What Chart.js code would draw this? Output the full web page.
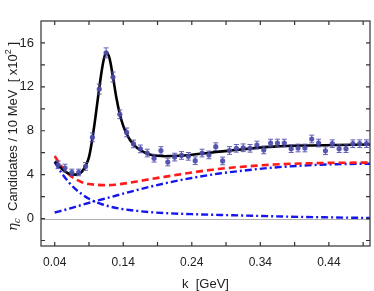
<!DOCTYPE html>
<html lang="en">
<head>
<meta charset="UTF-8">
<title>eta_c candidates vs k</title>
<script src="https://cdn.jsdelivr.net/npm/chart.js@4.4.0/dist/chart.umd.min.js"></script>
<style>
  * { margin: 0; padding: 0; }
  body { background: #fff; width: 374px; height: 291px; overflow: hidden; }
  canvas { display: block; }
</style>
</head>
<body>
<canvas id="chart" width="374" height="291"></canvas>
<script>
// data points (bin centres, x10^2 candidates per 10 MeV)
const kPoints = [0.045,0.055,0.065,0.075,0.085,0.095,0.105,0.115,0.125,0.135,0.145,0.155,0.165,0.175,0.185,0.195,0.205,0.215,0.225,0.235,0.245,0.255,0.265,0.275,0.285,0.295,0.305,0.315,0.325,0.335,0.345,0.355,0.365,0.375,0.385,0.395,0.405,0.415,0.425,0.435,0.445,0.455,0.465,0.475,0.485,0.495];
const counts  = [4.9,4.6,4.2,4.2,4.75,7.4,11.8,15.1,12.9,9.5,7.85,6.8,6.35,5.97,5.5,6.2,5.15,5.6,5.75,5.67,5.27,5.97,5.8,6.55,5.25,6.2,6.4,6.45,6.4,6.7,6.25,6.88,6.88,6.88,6.37,6.43,6.43,7.25,6.88,6.18,6.82,6.37,6.37,6.82,6.82,6.82];
const errs    = [0.35,0.35,0.3,0.3,0.35,0.4,0.45,0.45,0.45,0.4,0.4,0.35,0.35,0.35,0.35,0.35,0.35,0.35,0.35,0.35,0.35,0.35,0.35,0.35,0.35,0.35,0.35,0.35,0.35,0.35,0.35,0.35,0.35,0.35,0.35,0.35,0.35,0.35,0.35,0.35,0.35,0.35,0.35,0.35,0.35,0.35];

// total fit
const fitK = [0.04,0.045,0.05,0.055,0.06,0.065,0.07,0.075,0.08,0.085,0.09,0.095,0.1,0.105,0.11,0.115,0.12,0.125,0.13,0.135,0.14,0.145,0.15,0.155,0.16,0.17,0.18,0.19,0.2,0.22,0.24,0.26,0.28,0.3,0.32,0.36,0.4,0.45,0.5];
const fitY = [5.2,4.9,4.55,4.3,4.12,4.02,4.0,4.05,4.3,4.8,5.6,7.3,9.5,11.9,14.0,15.15,14.6,12.9,11.0,9.5,8.45,7.7,7.15,6.75,6.45,6.05,5.82,5.72,5.68,5.72,5.82,5.95,6.1,6.22,6.35,6.55,6.65,6.7,6.75];

// total background (red)
const bkgK = [0.04,0.05,0.06,0.07,0.08,0.09,0.1,0.11,0.12,0.13,0.14,0.16,0.18,0.2,0.22,0.24,0.27,0.3,0.33,0.36,0.4,0.45,0.5];
const bkgY = [5.7,4.75,4.05,3.6,3.3,3.15,3.08,3.05,3.05,3.1,3.18,3.38,3.6,3.8,4.0,4.2,4.45,4.65,4.8,4.92,5.02,5.08,5.1];

// background components (blue)
const riseK = [0.04,0.06,0.08,0.1,0.12,0.14,0.16,0.2,0.24,0.28,0.32,0.36,0.4,0.45,0.5];
const riseY = [0.55,0.88,1.25,1.6,1.93,2.27,2.6,3.2,3.7,4.1,4.4,4.65,4.82,4.95,5.0];
const fallK = [0.04,0.05,0.06,0.07,0.08,0.09,0.1,0.11,0.12,0.14,0.16,0.18,0.2,0.24,0.3,0.35,0.4,0.45,0.5];
const fallY = [5.15,4.15,3.35,2.7,2.2,1.8,1.5,1.28,1.1,0.85,0.7,0.58,0.5,0.4,0.3,0.22,0.15,0.1,0.05];

const xMajor = [0.04,0.14,0.24,0.34,0.44];
const xTicks = [0.04,0.09,0.14,0.19,0.24,0.29,0.34,0.39,0.44,0.49];
const yMajor = [0,4,8,12,16];
const yTicks = [-2,0,2,4,6,8,10,12,14,16];

function pts(xs, ys) { return xs.map((x, i) => ({ x: x, y: ys[i] })); }

const frame = {
  id: 'frame',
  beforeDatasetsDraw(chart) {
    const { ctx, chartArea: a, scales: { x, y } } = chart;
    ctx.save();
    ctx.strokeStyle = '#b0b0b0';
    ctx.lineWidth = 1;
    const y0 = Math.round(y.getPixelForValue(0)) + 0.5;
    ctx.beginPath(); ctx.moveTo(a.left, y0); ctx.lineTo(a.right, y0); ctx.stroke();
    ctx.restore();
  },
  afterDatasetsDraw(chart) {
    const { ctx, chartArea: a, scales: { x, y } } = chart;
    ctx.save();
    // error bars
    ctx.strokeStyle = 'rgba(80,80,175,0.9)';
    ctx.lineWidth = 1;
    kPoints.forEach((k, i) => {
      const px = x.getPixelForValue(k);
      const yt = y.getPixelForValue(counts[i] + errs[i]);
      const yb = y.getPixelForValue(counts[i] - errs[i]);
      ctx.beginPath();
      ctx.moveTo(px, yt); ctx.lineTo(px, yb);
      ctx.moveTo(px - 2.5, yt); ctx.lineTo(px + 2.5, yt);
      ctx.moveTo(px - 2.5, yb); ctx.lineTo(px + 2.5, yb);
      ctx.stroke();
    });
    // box and inward ticks
    ctx.strokeStyle = '#333';
    ctx.lineWidth = 1.2;
    ctx.strokeRect(a.left, a.top, a.right - a.left, a.bottom - a.top);
    ctx.beginPath();
    xTicks.forEach(t => {
      const px = x.getPixelForValue(t);
      ctx.moveTo(px, a.bottom); ctx.lineTo(px, a.bottom - 4);
      ctx.moveTo(px, a.top); ctx.lineTo(px, a.top + 4);
    });
    yTicks.forEach(t => {
      const py = y.getPixelForValue(t);
      ctx.moveTo(a.left, py); ctx.lineTo(a.left + 4, py);
      ctx.moveTo(a.right, py); ctx.lineTo(a.right - 4, py);
    });
    ctx.stroke();
    // axis titles
    ctx.fillStyle = '#222';
    ctx.font = '13px "Liberation Sans", Arial, sans-serif';
    ctx.textAlign = 'center';
    ctx.textBaseline = 'alphabetic';
    ctx.fillText('k  [GeV]', (a.left + a.right) / 2, 288);
    ctx.translate(17, (a.top + a.bottom) / 2 + 3);
    ctx.rotate(-Math.PI / 2);
    const f = '13px "Liberation Sans", Arial, sans-serif';
    const fs = '9px "Liberation Sans", Arial, sans-serif';
    const parts = [
      { t: '\u03B7', font: 'italic 13px "DejaVu Serif", serif', dy: 0 },
      { t: 'c', font: 'italic 9px "DejaVu Serif", serif', dy: 3 },
      { t: '  Candidates / 10 MeV  [ x10', font: f, dy: 0 },
      { t: '2', font: fs, dy: -6 },
      { t: ' ]', font: f, dy: 0 }
    ];
    let total = 0;
    parts.forEach(p => { ctx.font = p.font; p.w = ctx.measureText(p.t).width; total += p.w; });
    let cx = -total / 2;
    ctx.textAlign = 'left';
    parts.forEach(p => { ctx.font = p.font; ctx.fillText(p.t, cx, p.dy); cx += p.w; });
    ctx.restore();
  }
};

new Chart(document.getElementById('chart'), {
  type: 'scatter',
  data: {
    datasets: [
      { data: pts(kPoints, counts), showLine: false, pointRadius: 2.6, pointBorderWidth: 0,
        backgroundColor: 'rgba(72,72,170,0.9)' },
      { data: pts(fitK, fitY), showLine: true, pointRadius: 0, borderColor: '#000', borderWidth: 2.6,
        cubicInterpolationMode: 'monotone' },
      { data: pts(bkgK, bkgY), showLine: true, pointRadius: 0, borderColor: '#ff1a1a', borderWidth: 2.6,
        borderDash: [7, 4], cubicInterpolationMode: 'monotone' },
      { data: pts(riseK, riseY), showLine: true, pointRadius: 0, borderColor: '#1515ee', borderWidth: 2.4,
        borderDash: [7, 3, 2, 3], cubicInterpolationMode: 'monotone' },
      { data: pts(fallK, fallY), showLine: true, pointRadius: 0, borderColor: '#1515ee', borderWidth: 2.4,
        borderDash: [7, 3, 2, 3], cubicInterpolationMode: 'monotone' }
    ]
  },
  options: {
    responsive: false,
    animation: false,
    devicePixelRatio: 1,
    layout: { padding: { top: 21, right: 2, left: 0, bottom: 0 } },
    plugins: { legend: { display: false }, tooltip: { enabled: false } },
    scales: {
      x: {
        type: 'linear', min: 0.02, max: 0.5,
        grid: { display: false, drawTicks: false },
        border: { display: false },
        afterBuildTicks: s => { s.ticks = xMajor.map(v => ({ value: v })); },
        afterFit: s => { s.height = 45; },
        ticks: { padding: 9, color: '#222', font: { family: '"Liberation Sans", Arial, sans-serif', size: 12 },
          callback: v => v.toFixed(2) }
      },
      y: {
        min: -2.5, max: 18,
        grid: { display: false, drawTicks: false },
        border: { display: false },
        afterBuildTicks: s => { s.ticks = yMajor.map(v => ({ value: v })); },
        afterFit: s => { s.width = 41; },
        ticks: { padding: 7, color: '#222', font: { family: '"Liberation Sans", Arial, sans-serif', size: 13 } }
      }
    }
  },
  plugins: [frame]
});
</script>
</body>
</html>
